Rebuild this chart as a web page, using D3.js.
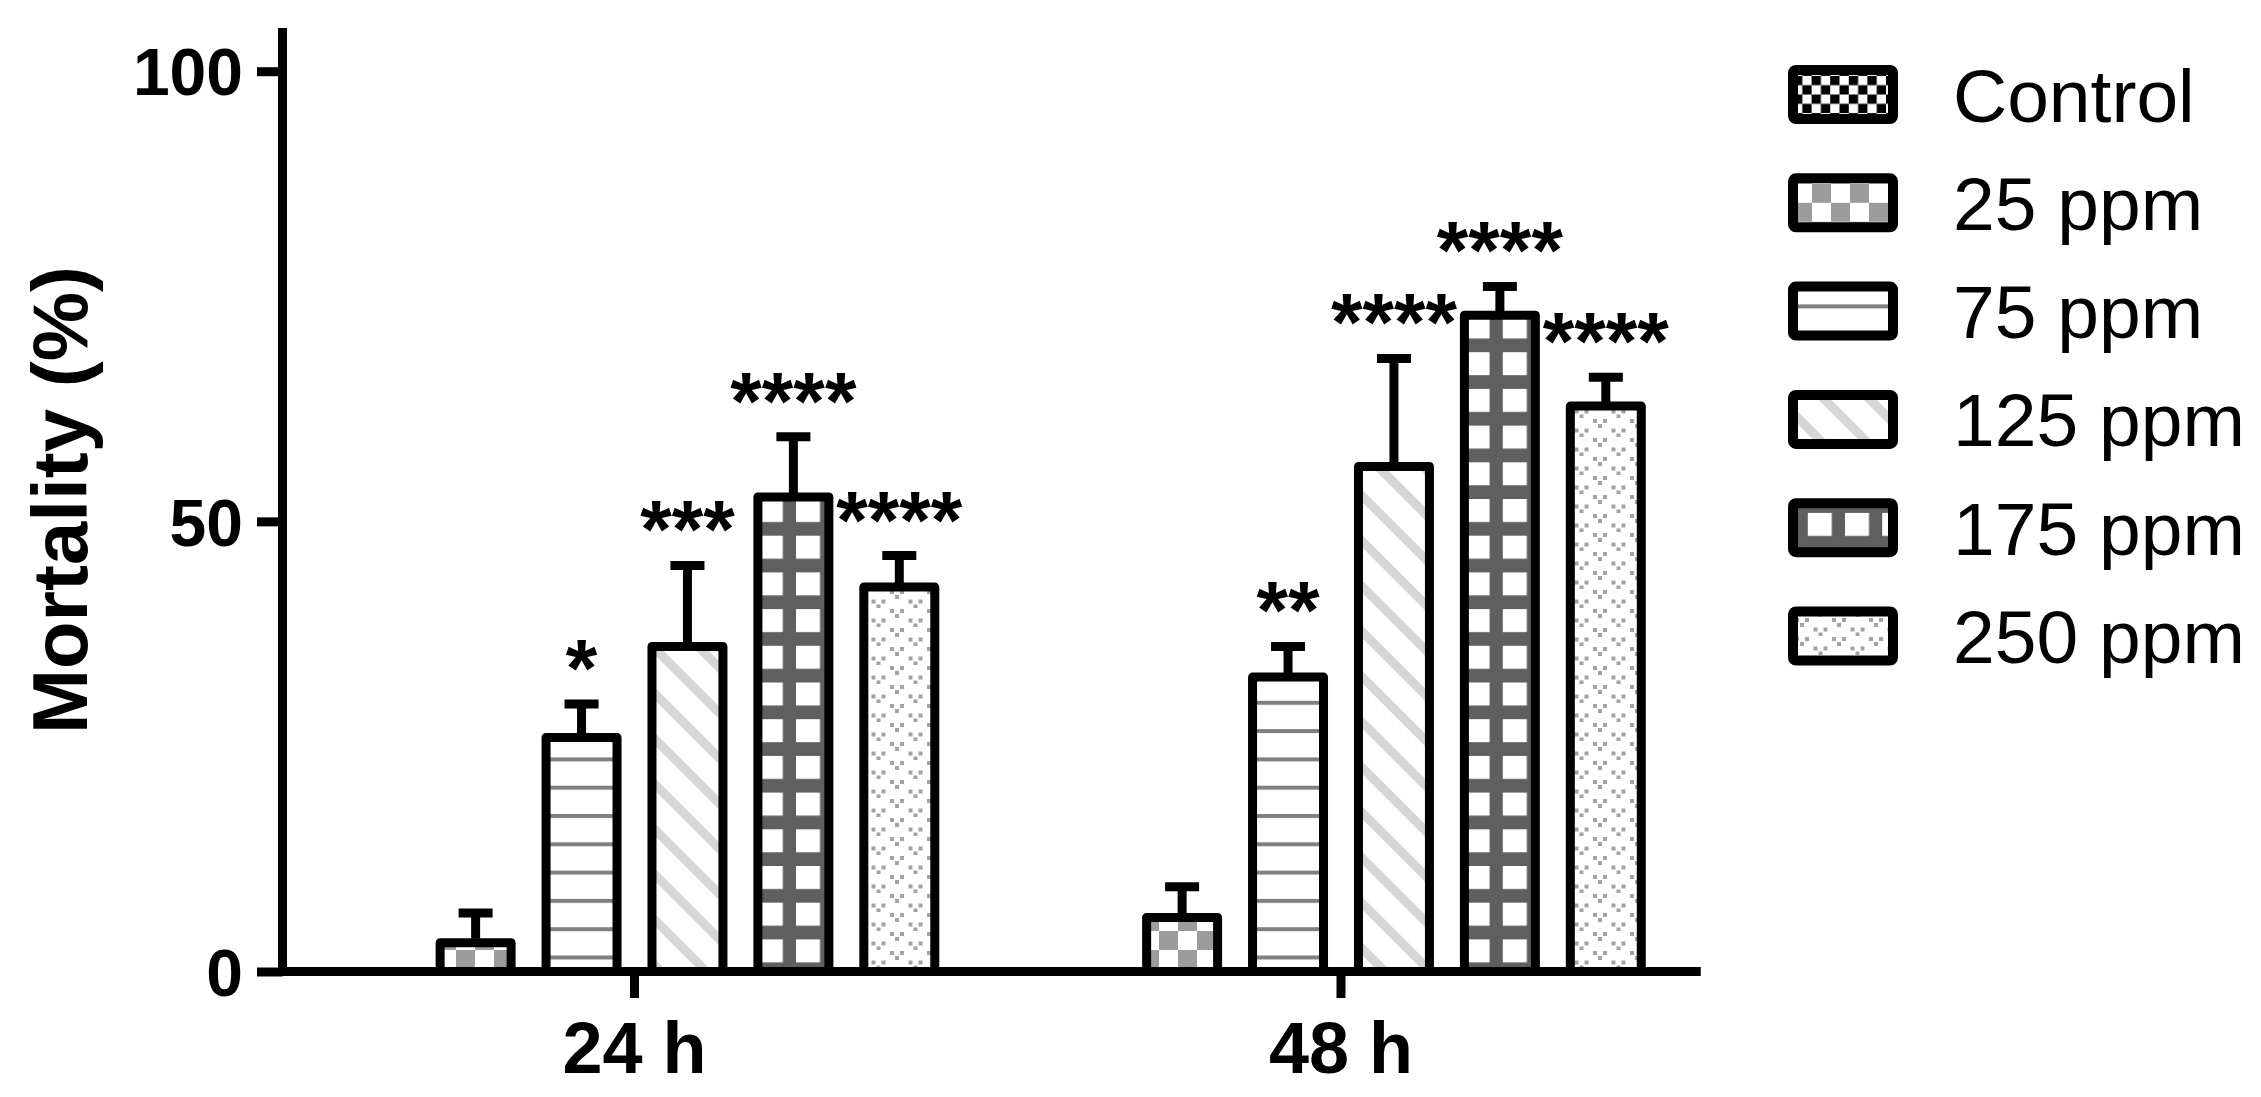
<!DOCTYPE html>
<html>
<head>
<meta charset="utf-8">
<script src="https://cdn.jsdelivr.net/npm/d3@7"></script>
<style>
  body { margin: 0; background: #fff; }
  text { font-family: "Liberation Sans", Arial, sans-serif; fill: #000; }
</style>
</head>
<body>
<svg width="2261" height="1097"></svg>
<script>
// data
const groups = ['24 h', '48 h'];
const series = ['Control', '25 ppm', '75 ppm', '125 ppm', '175 ppm', '250 ppm'];
const mean24 = [0, 3.2, 26.0, 36.1, 52.7, 42.7];
const sd24   = [0, 3.3, 3.7, 9.0, 6.7, 3.5];
const mean48 = [0, 6.0, 32.7, 56.1, 72.9, 62.8];
const sd48   = [0, 3.4, 3.4, 12.0, 3.2, 3.2];
const stars24 = ['', '', '*', '***', '****', '****'];
const stars48 = ['', '', '**', '****', '****', '****'];
const yTicks = [0, 50, 100];

const means = [mean24, mean48];
const sds = [sd24, sd48];
const stars = [stars24, stars48];

const svg = d3.select('svg');
const width = +svg.attr('width');
const height = +svg.attr('height');

const fills = {
  'Control': 'url(#p-control)',
  '25 ppm': 'url(#p-25)',
  '75 ppm': 'url(#p-75)',
  '125 ppm': 'url(#p-125)',
  '175 ppm': 'url(#p-175)',
  '250 ppm': 'url(#p-250)'
};

// ---- patterns
const defs = svg.append('defs');

const pc = defs.append('pattern').attr('id', 'p-control')
  .attr('patternUnits', 'userSpaceOnUse').attr('width', 18.6).attr('height', 18.6);
pc.append('rect').attr('width', 18.6).attr('height', 18.6).attr('fill', '#fff');
pc.append('rect').attr('width', 9.3).attr('height', 9.3).attr('fill', '#000');
pc.append('rect').attr('x', 9.3).attr('y', 9.3).attr('width', 9.3).attr('height', 9.3).attr('fill', '#000');

const p25 = defs.append('pattern').attr('id', 'p-25')
  .attr('patternUnits', 'userSpaceOnUse').attr('width', 38).attr('height', 38);
p25.append('rect').attr('width', 38).attr('height', 38).attr('fill', '#fff');
p25.append('rect').attr('width', 19).attr('height', 19).attr('fill', '#9c9c9e');
p25.append('rect').attr('x', 19).attr('y', 19).attr('width', 19).attr('height', 19).attr('fill', '#9c9c9e');

const p75 = defs.append('pattern').attr('id', 'p-75')
  .attr('patternUnits', 'userSpaceOnUse').attr('y', 21.6).attr('width', 10).attr('height', 28.3);
p75.append('rect').attr('width', 10).attr('height', 28.3).attr('fill', '#fff');
p75.append('rect').attr('width', 10).attr('height', 4).attr('fill', '#808080');

const p125 = defs.append('pattern').attr('id', 'p-125')
  .attr('patternUnits', 'userSpaceOnUse').attr('width', 32).attr('height', 32)
  .attr('patternTransform', 'rotate(-45)');
p125.append('rect').attr('width', 32).attr('height', 32).attr('fill', '#fff');
p125.append('rect').attr('width', 9).attr('height', 32).attr('fill', '#d6d6d6');

const p175 = defs.append('pattern').attr('id', 'p-175')
  .attr('patternUnits', 'userSpaceOnUse').attr('x', 14.8).attr('y', 21.9)
  .attr('width', 37.2).attr('height', 36.7);
p175.append('rect').attr('width', 37.2).attr('height', 36.7).attr('fill', '#5f5f5f');
p175.append('rect').attr('width', 24).attr('height', 23).attr('fill', '#fff');

const p250 = defs.append('pattern').attr('id', 'p-250')
  .attr('patternUnits', 'userSpaceOnUse').attr('width', 37).attr('height', 19);
p250.append('rect').attr('width', 37).attr('height', 19).attr('fill', '#fff');
[[9, 3], [27.5, 12.5]].forEach(([cx, cy]) => {
  [[-5, 0], [5, 0], [0, 5]].forEach(([dx, dy]) => {
    p250.append('rect')
      .attr('x', cx + dx - 2).attr('y', cy + dy - 2)
      .attr('width', 4).attr('height', 4)
      .attr('fill', '#a2a2a8');
  });
});

// ---- scales
const x0 = d3.scaleBand()
  .domain(groups)
  .range([281.25, 1694.25]);

const x1 = d3.scaleBand()
  .domain(series)
  .range([0, x0.bandwidth()])
  .paddingInner(0.33)
  .paddingOuter(0.5);

const yScale = d3.scaleLinear()
  .domain([0, 104.8])
  .range([971.5, 28]);

const table = groups.flatMap((g, gi) => series.map((s, si) => ({
  group: g, series: s,
  value: means[gi][si], sd: sds[gi][si], stars: stars[gi][si]
})));

const barX = d => x0(d.group) + x1(d.series);
const barC = d => barX(d) + x1.bandwidth() / 2;

const g = svg.append('g');

// bars
g.selectAll('rect.bar')
  .data(table.filter(d => d.value > 0))
  .enter().append('rect')
    .attr('class', 'bar')
    .attr('x', barX)
    .attr('y', d => yScale(d.value))
    .attr('width', x1.bandwidth())
    .attr('height', d => yScale(0) - yScale(d.value))
    .attr('fill', d => fills[d.series])
    .attr('stroke', '#000')
    .attr('stroke-width', 9)
    .attr('stroke-linejoin', 'round');

// error bars (upper only)
const err = g.selectAll('g.err')
  .data(table.filter(d => d.sd > 0))
  .enter().append('g').attr('class', 'err');

err.append('line')
  .attr('x1', barC).attr('x2', barC)
  .attr('y1', d => yScale(d.value) - 4)
  .attr('y2', d => yScale(d.value + d.sd))
  .attr('stroke', '#000').attr('stroke-width', 9);

err.append('line')
  .attr('x1', d => barC(d) - 17).attr('x2', d => barC(d) + 17)
  .attr('y1', d => yScale(d.value + d.sd))
  .attr('y2', d => yScale(d.value + d.sd))
  .attr('stroke', '#000').attr('stroke-width', 9);

// significance stars
g.selectAll('text.star')
  .data(table.filter(d => d.stars))
  .enter().append('text')
    .attr('class', 'star')
    .attr('x', barC)
    .attr('y', d => yScale(d.value + d.sd) - 8)
    .attr('text-anchor', 'middle')
    .style('font-size', '81px')
    .style('font-weight', 'bold')
    .text(d => d.stars);

// ---- y axis
const yAxis = d3.axisLeft(yScale)
  .tickValues(yTicks)
  .tickSize(25.5)
  .tickSizeOuter(0)
  .tickPadding(14);

const yAxisG = svg.append('g')
  .attr('transform', 'translate(282.5,0)')
  .call(yAxis);
yAxisG.select('.domain').remove();
yAxisG.selectAll('.tick line').attr('stroke', '#000').attr('stroke-width', 9);
yAxisG.selectAll('.tick text')
  .attr('dy', '0.36em')
  .style('font-size', '66px')
  .style('font-weight', 'bold')
  .style('font-family', '"Liberation Sans", Arial, sans-serif')
  .attr('fill', '#000');

svg.append('line')
  .attr('x1', 282.5).attr('x2', 282.5)
  .attr('y1', yScale(0) + 4.5).attr('y2', yScale.range()[1])
  .attr('stroke', '#000').attr('stroke-width', 9);

// ---- x axis
const xAxis = d3.axisBottom(x0)
  .tickSize(26.5)
  .tickSizeOuter(0)
  .tickPadding(24);

const xAxisG = svg.append('g')
  .attr('transform', `translate(0,${yScale(0)})`)
  .call(xAxis);
xAxisG.select('.domain').remove();
xAxisG.selectAll('.tick line').attr('stroke', '#000').attr('stroke-width', 9);
xAxisG.selectAll('.tick text')
  .style('font-size', '72px')
  .style('font-weight', 'bold')
  .style('font-family', '"Liberation Sans", Arial, sans-serif')
  .attr('fill', '#000');

svg.append('line')
  .attr('x1', 278).attr('x2', x0.range()[1] + 6.5)
  .attr('y1', yScale(0)).attr('y2', yScale(0))
  .attr('stroke', '#000').attr('stroke-width', 9);

// axis title
svg.append('text')
  .attr('transform', 'rotate(-90)')
  .attr('x', -500)
  .attr('y', 87)
  .attr('text-anchor', 'middle')
  .style('font-size', '78px')
  .style('font-weight', 'bold')
  .text('Mortality (%)');

// ---- legend
const legend = svg.append('g')
  .selectAll('g')
  .data(series)
  .enter().append('g')
    .attr('transform', (d, i) => `translate(1793,${94.5 + i * 108.3})`);

legend.append('rect')
  .attr('x', 0).attr('y', -24.5)
  .attr('width', 100).attr('height', 49)
  .attr('rx', 3)
  .attr('fill', d => fills[d])
  .attr('stroke', '#000')
  .attr('stroke-width', 10)
  .attr('stroke-linejoin', 'round');

legend.append('text')
  .attr('x', 160)
  .attr('y', 27)
  .style('font-size', '75px')
  .text(d => d);
</script>
</body>
</html>
